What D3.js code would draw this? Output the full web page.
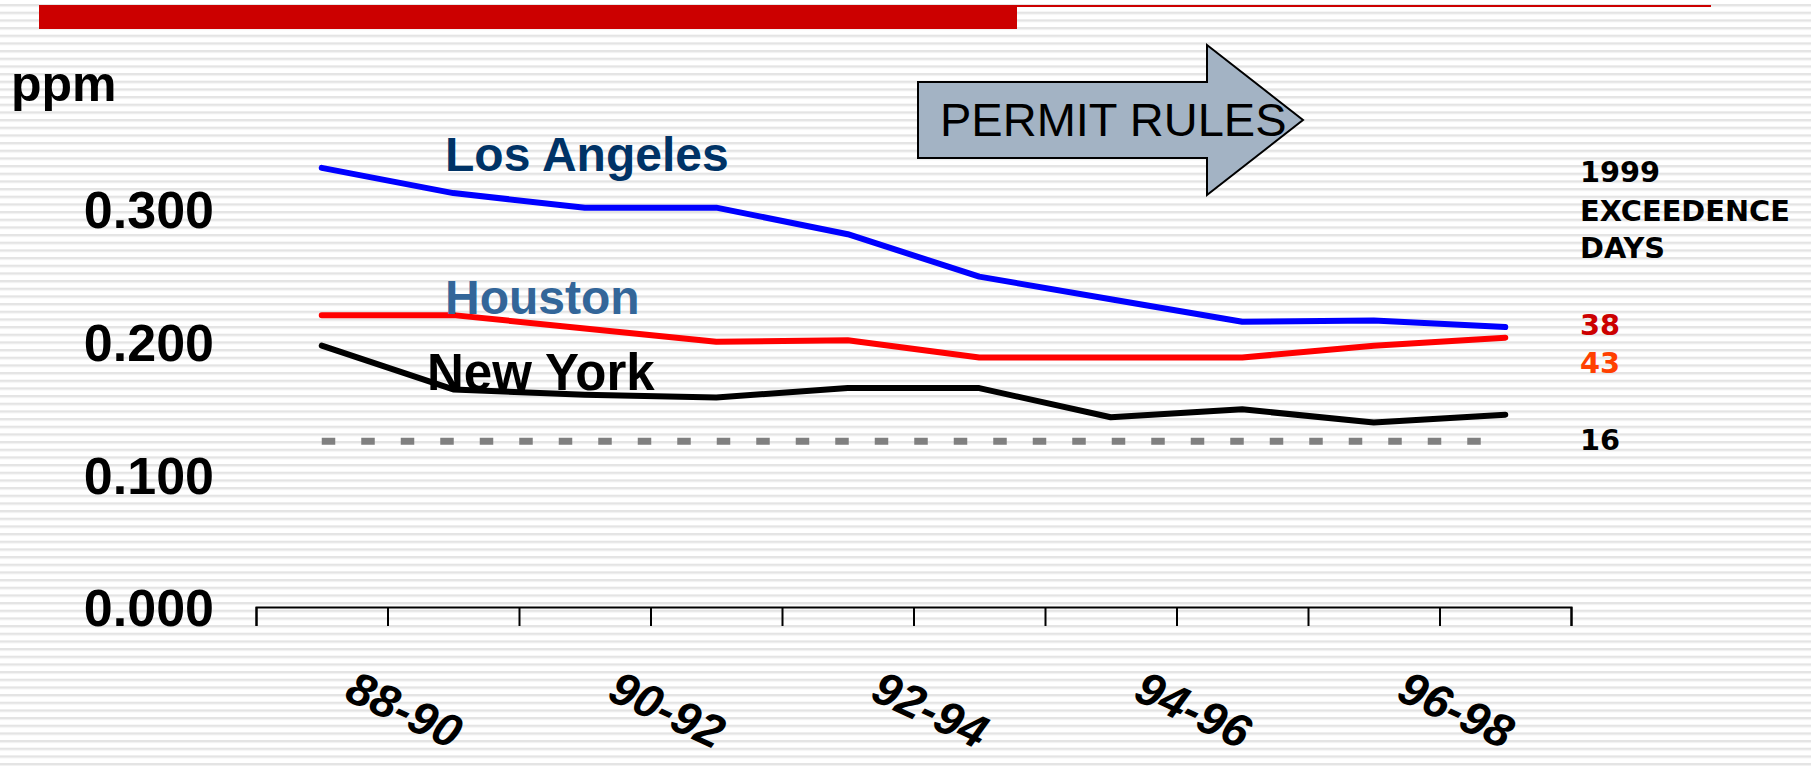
<!DOCTYPE html>
<meta charset="utf-8">
<style>
body { margin: 0; background: #fff; }
.line { fill: none; stroke-width: 6px; stroke-linejoin: round; stroke-linecap: round; }
.big { font-family: "Liberation Sans", Arial, sans-serif; font-weight: bold; }
.note { font-family: "DejaVu Sans", Verdana, sans-serif; font-weight: bold; font-size: 28.8px; }
</style>
<body>
<script src="https://d3js.org/d3.v7.min.js"></script>
<script>

// data: ten rolling periods, ppm
var laValues      = [0.331, 0.312, 0.301, 0.301, 0.281, 0.249, 0.232, 0.215, 0.216, 0.211];
var houstonValues = [0.220, 0.220, 0.210, 0.200, 0.201, 0.188, 0.188, 0.188, 0.197, 0.203];
var nyValues      = [0.197, 0.164, 0.160, 0.158, 0.165, 0.165, 0.143, 0.149, 0.139, 0.145];
var standard = 0.125;

var xTickLabels = ["88-90", "90-92", "92-94", "94-96", "96-98"];
var xTickAt     = [1, 3, 5, 7, 9];
var yTicks      = [0, 0.1, 0.2, 0.3];

var dayTitle = ["1999", "EXCEEDENCE", "DAYS"];
var days     = [{v: "38", c: "#cc0000"}, {v: "43", c: "#ff4000"}, {v: "16", c: "#000"}];

var W = 1811, H = 766;

var svg = d3.select("body").append("svg")
    .attr("width", W)
    .attr("height", H);

// striped slide background
var defs = svg.append("defs");
var pat = defs.append("pattern")
    .attr("id", "stripes")
    .attr("patternUnits", "userSpaceOnUse")
    .attr("width", 20).attr("height", 7.667)
    .attr("y", 4);
pat.append("rect").attr("width", 20).attr("height", 7.667).attr("fill", "#fff");
pat.append("rect").attr("width", 20).attr("height", 2).attr("fill", "#e4e4e4");
pat.append("rect").attr("y", 2).attr("width", 20).attr("height", 1).attr("fill", "#f1f1f1");
svg.append("rect").attr("width", W).attr("height", H).attr("fill", "url(#stripes)");

// red title bar
svg.append("rect").attr("x", 39).attr("y", 5).attr("width", 1672).attr("height", 2).attr("fill", "#cc0000");
svg.append("rect").attr("x", 39).attr("y", 6).attr("width", 978).attr("height", 23).attr("fill", "#cc0000");

// scales
var x = d3.scaleLinear().domain([0, 10]).range([256, 1571]);
var y = d3.scaleLinear().domain([0, 0.3]).range([607, 209]);

// x axis (ticks only, labels drawn rotated below)
svg.append("g")
    .attr("transform", "translate(0," + y(0) + ")")
    .call(d3.axisBottom(x).tickValues(d3.range(0, 11)).tickSize(19).tickFormat(""))
    .call(function(g) {
      g.selectAll("path, line").attr("stroke", "#000").attr("stroke-width", 2);
    });

xTickLabels.forEach(function(t, i) {
  svg.append("text")
      .attr("class", "big")
      .attr("font-size", 47)
      .attr("font-style", "italic")
      .attr("text-anchor", "middle")
      .attr("dy", "0.36em")
      .attr("transform", "translate(" + (x(xTickAt[i]) + 17) + ",709) rotate(25)")
      .text(t);
});

// y axis labels
svg.append("g")
    .attr("transform", "translate(214,0)")
    .call(d3.axisLeft(y).tickValues(yTicks).tickSize(0).tickPadding(0).tickFormat(d3.format(".3f")))
    .call(function(g) {
      g.select(".domain").remove();
      g.selectAll("text")
          .attr("class", "big")
          .attr("font-size", 52)
          .attr("fill", "#000")
          .attr("dy", "0.36em");
    });

svg.append("text")
    .attr("class", "big")
    .attr("x", 11).attr("y", 101)
    .attr("font-size", 50)
    .text("ppm");

// standard line
svg.append("line")
    .attr("x1", x(0.5)).attr("x2", x(9.5))
    .attr("y1", y(standard)).attr("y2", y(standard))
    .attr("stroke", "#808080")
    .attr("stroke-width", 7)
    .attr("stroke-dasharray", "13.5,26");

// series
var line = d3.line()
    .x(function(d, i) { return x(i + 0.5); })
    .y(function(d) { return y(d); });

svg.append("path").datum(laValues).attr("class", "line").attr("stroke", "#0000ff").attr("d", line);
svg.append("path").datum(houstonValues).attr("class", "line").attr("stroke", "#ff0000").attr("d", line);
svg.append("path").datum(nyValues).attr("class", "line").attr("stroke", "#000000").attr("d", line);

// series labels
svg.append("text").attr("class", "big").attr("x", 445).attr("y", 171)
    .attr("font-size", 48).attr("fill", "#003366").text("Los Angeles");
svg.append("text").attr("class", "big").attr("x", 445).attr("y", 314)
    .attr("font-size", 48).attr("fill", "#336699").text("Houston");
svg.append("text").attr("class", "big").attr("x", 427).attr("y", 390)
    .attr("font-size", 51).attr("fill", "#000").text("New York");

// permit rules arrow
var arrow = [[918, 82], [1207, 82], [1207, 45], [1303, 120], [1207, 195], [1207, 158], [918, 158]];
svg.append("path")
    .attr("d", d3.line()(arrow) + "Z")
    .attr("fill", "#a3b3c4")
    .attr("stroke", "#000")
    .attr("stroke-width", 2);
svg.append("text")
    .attr("x", 940).attr("y", 136)
    .attr("font-family", "Liberation Sans, Arial, sans-serif")
    .attr("font-size", 47)
    .text("PERMIT RULES");

// exceedence days
svg.selectAll(".title").data(dayTitle).enter().append("text")
    .attr("class", "note")
    .attr("x", 1580)
    .attr("y", function(d, i) { return [182, 221, 258][i]; })
    .text(function(d) { return d; });

svg.selectAll(".days").data(days).enter().append("text")
    .attr("class", "note")
    .attr("x", 1580)
    .attr("y", function(d, i) { return [335, 373, 450][i]; })
    .attr("fill", function(d) { return d.c; })
    .text(function(d) { return d.v; });

</script>
</body>
